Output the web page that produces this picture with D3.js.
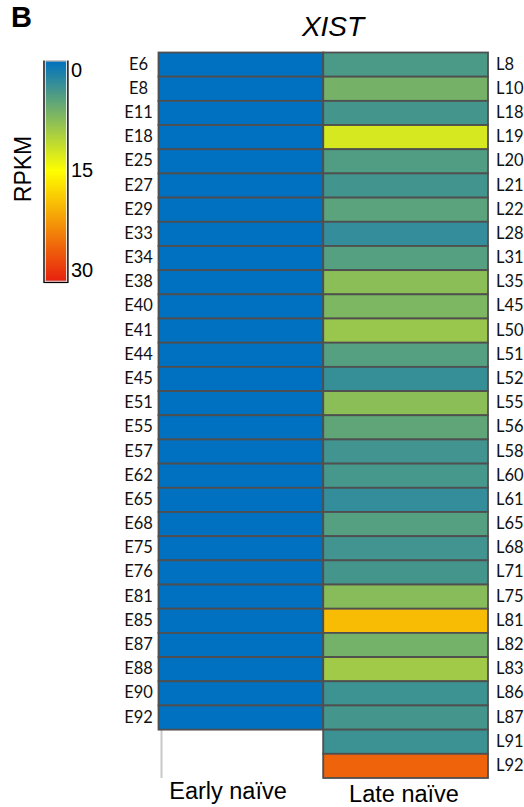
<!DOCTYPE html>
<html>
<head>
<meta charset="utf-8">
<script src="https://cdn.jsdelivr.net/npm/d3@7"></script>
<style>
  html, body { margin: 0; padding: 0; background: #fff; }
  svg { display: block; }
</style>
</head>
<body>
<svg id="chart" width="524" height="807"></svg>
<script>
// XIST expression (RPKM) per sample, early vs late naïve
const gene = "XIST";
const panelLetter = "B";
const groups = ["Early naïve", "Late naïve"];

const earlySamples = ["E6","E8","E11","E18","E25","E27","E29","E33","E34","E38","E40","E41","E44","E45",
  "E51","E55","E57","E62","E65","E68","E75","E76","E81","E85","E87","E88","E90","E92"];
const earlyValues = [0,0,0,0,0,0,0,0,0,0,0,0,0,0,0,0,0,0,0,0,0,0,0,0,0,0,0,0];

const lateSamples = ["L8","L10","L18","L19","L20","L21","L22","L28","L31","L35","L45","L50","L51","L52",
  "L55","L56","L58","L60","L61","L65","L68","L71","L75","L81","L82","L83","L86","L87","L91","L92"];
const lateValues = [4.4,6.9,4.0,12.6,4.7,3.9,5.3,3.0,5.0,8.2,7.4,9.0,5.0,3.2,
  8.2,5.6,3.8,4.1,3.0,5.0,3.8,4.0,8.0,19.5,6.8,9.4,3.6,4.0,3.5,25.5];

const legendTicks = [0, 15, 30];
const legendTitle = "RPKM";

const svg = d3.select("#chart");

// colour scale: blue -> yellow -> red
const color = d3.scaleLinear()
  .domain([0, 15, 30])
  .range(["#0070c0", "#ffff00", "#e8200f"])
  .interpolate(d3.interpolateRgb);

const nRows = Math.max(earlySamples.length, lateSamples.length);
const y = d3.scaleBand().domain(d3.range(nRows)).range([52.5, 778]).padding(0);
const x = d3.scaleBand().domain(groups).range([158.5, 488]).padding(0);

const columns = [
  { group: groups[0], samples: earlySamples, values: earlyValues },
  { group: groups[1], samples: lateSamples, values: lateValues }
];

// faint guide lines below the shorter column
const earlyBottom = y(earlySamples.length - 1) + y.bandwidth();
svg.append("g")
  .selectAll("line")
  .data(groups)
  .join("line")
  .attr("x1", (d, i) => x(d) + (i === 0 ? 3 : 0))
  .attr("x2", (d, i) => x(d) + (i === 0 ? 3 : 0))
  .attr("y1", earlyBottom)
  .attr("y2", y.range()[1])
  .attr("stroke", "#c8c8c8")
  .attr("stroke-width", 2);

// heatmap cells
columns.forEach(col => {
  svg.append("g")
    .selectAll("rect")
    .data(col.values)
    .join("rect")
    .attr("x", x(col.group))
    .attr("y", (d, i) => y(i))
    .attr("width", x.bandwidth())
    .attr("height", y.bandwidth())
    .attr("fill", d => color(d))
    .attr("stroke", "#4f4f4f")
    .attr("stroke-width", 1.8);
});

// sample labels
const labelFont = "Lato, 'Noto Sans', sans-serif";
svg.append("g")
  .selectAll("text")
  .data(earlySamples)
  .join("text")
  .attr("x", 138.5)
  .attr("y", (d, i) => y(i) + y.bandwidth() / 2 - 1)
  .attr("text-anchor", "middle")
  .attr("dominant-baseline", "central")
  .attr("font-family", labelFont)
  .attr("font-size", 16.5)
  .attr("fill", "#111")
  .text(d => d);

svg.append("g")
  .selectAll("text")
  .data(lateSamples)
  .join("text")
  .attr("x", 496)
  .attr("y", (d, i) => y(i) + y.bandwidth() / 2 - 1)
  .attr("text-anchor", "start")
  .attr("dominant-baseline", "central")
  .attr("font-family", labelFont)
  .attr("font-size", 16.5)
  .attr("fill", "#111")
  .text(d => d);

// gene title
svg.append("text")
  .attr("x", 333)
  .attr("y", 36)
  .attr("text-anchor", "middle")
  .attr("font-family", "'Liberation Sans', Arial, sans-serif")
  .attr("font-style", "italic")
  .attr("font-size", 28)
  .attr("fill", "#000")
  .text(gene);

// group labels
svg.append("text")
  .attr("x", 228)
  .attr("y", 799)
  .attr("text-anchor", "middle")
  .attr("font-family", "'Liberation Sans', Arial, sans-serif")
  .attr("font-size", 23.5)
  .attr("fill", "#000")
  .text(groups[0]);

svg.append("text")
  .attr("x", 404)
  .attr("y", 802)
  .attr("text-anchor", "middle")
  .attr("font-family", "'Liberation Sans', Arial, sans-serif")
  .attr("font-size", 23.5)
  .attr("fill", "#000")
  .text(groups[1]);

// panel letter
svg.append("text")
  .attr("x", 11)
  .attr("y", 26.5)
  .attr("font-family", "'Liberation Sans', Arial, sans-serif")
  .attr("font-weight", "bold")
  .attr("font-size", 29)
  .attr("fill", "#000")
  .text(panelLetter);

// colour legend
const barX = 45.7, barW = 20.5, barTop = 61, barBottom = 281;
const defs = svg.append("defs");
const grad = defs.append("linearGradient")
  .attr("id", "rpkmGrad")
  .attr("x1", 0).attr("y1", 0).attr("x2", 0).attr("y2", 1);
const stops = d3.range(0, 31, 1);
grad.selectAll("stop")
  .data(stops)
  .join("stop")
  .attr("offset", d => d / 30)
  .attr("stop-color", d => color(d));

svg.append("rect")
  .attr("x", barX).attr("y", barTop)
  .attr("width", barW).attr("height", barBottom - barTop)
  .attr("fill", "url(#rpkmGrad)");

// frame of the legend bar
const frame = svg.append("g").attr("fill", "none");
frame.append("line")
  .attr("x1", barX - 1.7).attr("x2", barX - 1.7)
  .attr("y1", barTop - 0.5).attr("y2", barBottom + 2)
  .attr("stroke", "#000").attr("stroke-width", 1.4);
frame.append("line")
  .attr("x1", barX + barW + 1.7).attr("x2", barX + barW + 1.7)
  .attr("y1", barTop - 0.5).attr("y2", barBottom + 2)
  .attr("stroke", "#000").attr("stroke-width", 1.4);
frame.append("line")
  .attr("x1", barX - 1.7).attr("x2", barX + barW + 1.7)
  .attr("y1", barBottom + 1.5).attr("y2", barBottom + 1.5)
  .attr("stroke", "#000").attr("stroke-width", 1.2);
frame.append("line")
  .attr("x1", barX).attr("x2", barX + barW)
  .attr("y1", barTop).attr("y2", barTop)
  .attr("stroke", "#b0b0b0").attr("stroke-width", 1.4);
frame.append("line")
  .attr("x1", barX).attr("x2", barX + barW)
  .attr("y1", barBottom).attr("y2", barBottom)
  .attr("stroke", "#d08080").attr("stroke-width", 1.2);

const legendY = d3.scaleLinear().domain([0, 30]).range([barTop + 9, barBottom - 11]);
svg.append("g")
  .selectAll("text")
  .data(legendTicks)
  .join("text")
  .attr("x", 71)
  .attr("y", d => legendY(d))
  .attr("dominant-baseline", "central")
  .attr("font-family", "'Liberation Sans', Arial, sans-serif")
  .attr("font-size", 20)
  .attr("fill", "#000")
  .text(d => d);

svg.append("text")
  .attr("transform", `translate(30.5, ${(barTop + barBottom) / 2 - 2}) rotate(-90)`)
  .attr("text-anchor", "middle")
  .attr("font-family", "'Liberation Sans', Arial, sans-serif")
  .attr("font-size", 23)
  .attr("fill", "#000")
  .text(legendTitle);
</script>
</body>
</html>
